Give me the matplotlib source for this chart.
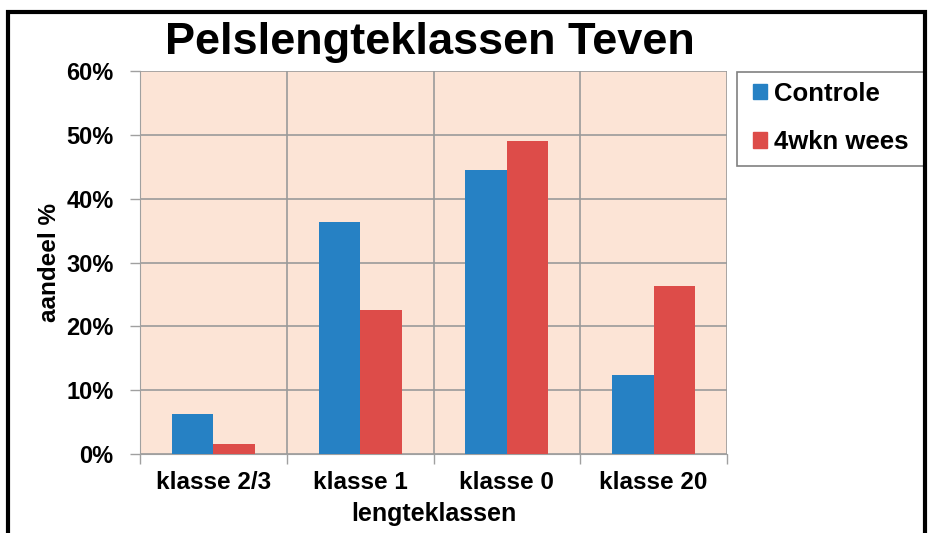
import matplotlib
matplotlib.use("Agg")
import matplotlib.pyplot as plt
import numpy as np
from matplotlib.patches import Rectangle

categories = ["klasse 2/3", "klasse 1", "klasse 0", "klasse 20"]
controle = [6.2, 36.4, 44.5, 12.4]
wees = [1.6, 22.6, 49.1, 26.3]
series_names = ["Controle", "4wkn wees"]
yticks = [0, 10, 20, 30, 40, 50, 60]

plt.rcParams['font.family'] = ['Liberation Sans', 'DejaVu Sans']

W, H = 931, 533
fig = plt.figure(figsize=(W/100, H/100), dpi=100)
ax = fig.add_axes([140/W, 79/H, 587/W, 383/H])
ax.set_facecolor("#FCE4D6")

x = np.arange(len(categories))
w = 0.283
c_blue = "#2681C4"
c_red = "#DD4C49"
ax.bar(x - w/2, controle, w, color=c_blue, label=series_names[0], zorder=3)
ax.bar(x + w/2, wees, w, color=c_red, label=series_names[1], zorder=3)

ax.set_xlim(-0.5, len(categories) - 0.5)
ax.set_ylim(0, 60)
ax.set_yticks(yticks)
ax.set_yticklabels([f"{v}%" for v in yticks], fontsize=17, fontweight="bold")
ax.set_xticks(x)
ax.set_xticklabels(categories, fontsize=17.5, fontweight="bold")
ax.set_xticks(np.arange(-0.5, len(categories) + 0.5, 1), minor=True)
ax.tick_params(axis="x", which="major", length=0, pad=12)
ax.tick_params(axis="x", which="minor", length=7, color="#A0A0A0", width=1)
ax.tick_params(axis="y", length=7, color="#A0A0A0", width=1, pad=12)
ax.grid(axis="y", which="major", color="#9A9A9A", linewidth=1.2, zorder=1)
ax.grid(axis="x", which="minor", color="#9A9A9A", linewidth=1.2, zorder=1)
for s in ["top", "right"]:
    ax.spines[s].set_visible(False)
ax.spines["left"].set_color("#A0A0A0")
ax.spines["bottom"].set_color("#A0A0A0")

ax.set_xlabel("lengteklassen", fontsize=18, fontweight="bold", labelpad=6)
ax.set_ylabel("aandeel %", fontsize=17.5, fontweight="bold", labelpad=4)

fig.text(430/W, 1 - 54/H, "Pelslengteklassen Teven", fontsize=32.5,
         fontweight="bold", ha="center", va="baseline")

# legend frame
fig.patches.append(Rectangle((737/W, 1 - 166/H), 189/W, 94/H,
                             transform=fig.transFigure, fill=False,
                             edgecolor="#808080", linewidth=1.2))
handles = [Rectangle((0, 0), 1, 1, color=c_blue), Rectangle((0, 0), 1, 1, color=c_red)]
leg = fig.legend(handles, series_names, loc="center left",
                 bbox_to_anchor=(753/W, 1 - 118/H),
                 prop={"weight": "bold", "size": 18.5},
                 frameon=False, handlelength=0.55, handleheight=0.55,
                 handletextpad=0.25, labelspacing=0.95, borderpad=0,
                 borderaxespad=0)

fig.patches.append(Rectangle((8/W, -0.05), 917/W, 1.05 - 12/H,
                             transform=fig.transFigure, fill=False,
                             edgecolor="black", linewidth=3))

fig.savefig("out.png", dpi=100)
